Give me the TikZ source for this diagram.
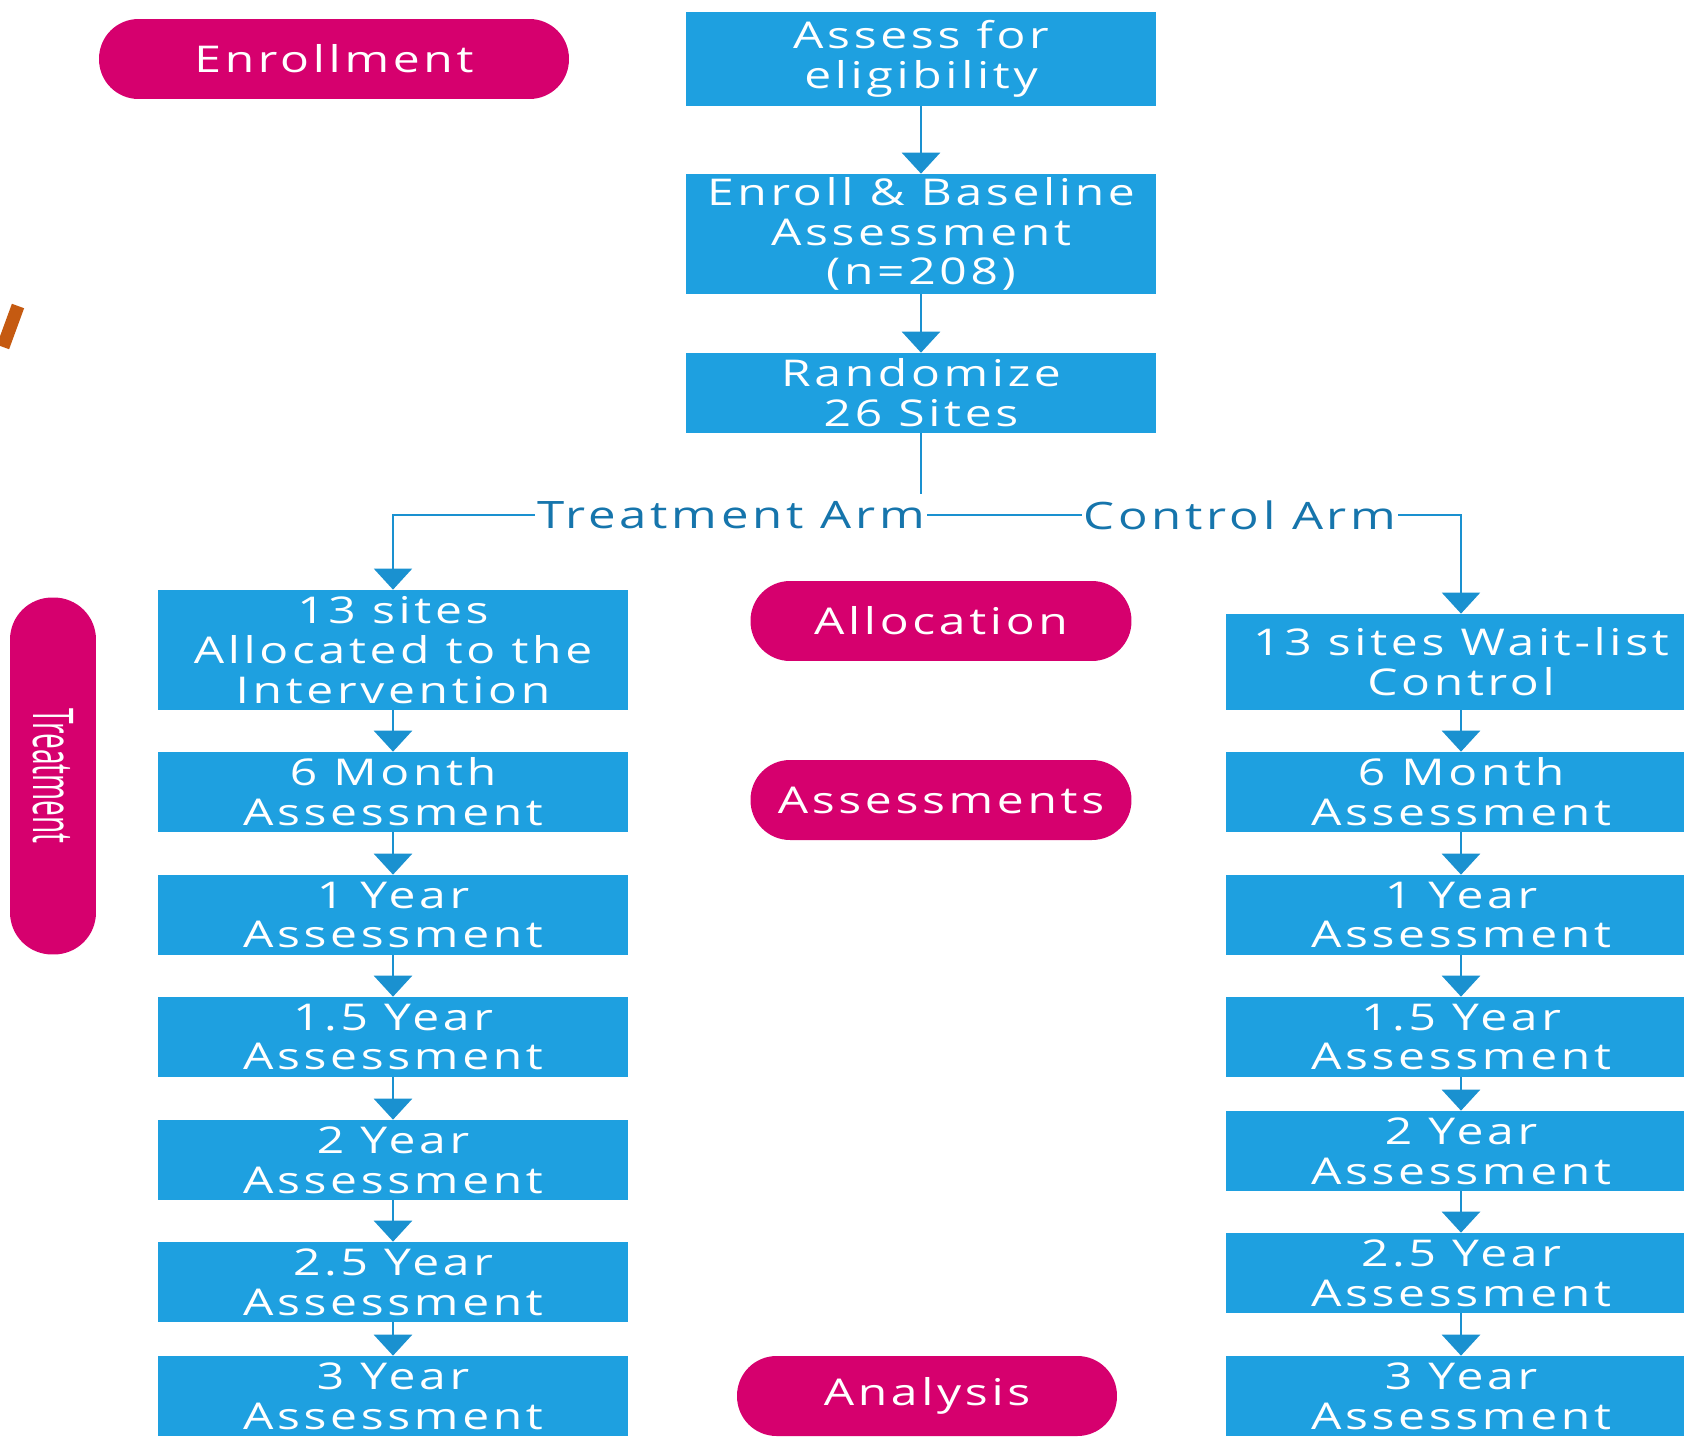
\documentclass[tikz,border=0pt]{standalone}
\usepackage{fontspec}
\setmainfont{Open Sans}[FakeStretch=1.3,LetterSpace=10]
\newfontfamily\narrowfont{Open Sans}[FakeStretch=0.5]
\usetikzlibrary{arrows.meta}

\definecolor{boxblue}{RGB}{30,160,224}
\definecolor{linkblue}{RGB}{26,145,208}
\definecolor{armblue}{RGB}{22,117,172}
\definecolor{pillpink}{RGB}{214,0,110}
\definecolor{markorange}{RGB}{197,90,17}

\tikzset{
  flowbox/.style={fill=boxblue, text=white, align=center, inner sep=0pt,
    minimum width=9.4cm, minimum height=1.6cm,
    font=\fontsize{21}{22.6}\selectfont},
  pill/.style={fill=pillpink, text=white, rounded corners=0.79cm, inner sep=0pt,
    minimum width=7.62cm, minimum height=1.6cm,
    font=\fontsize{21}{22.6}\selectfont},
  link/.style={linkblue, line width=1.6pt, -{Triangle[width=0.76cm,length=0.42cm]}},
  armline/.style={linkblue, line width=1.2pt},
  armlabel/.style={fill=white, text=armblue, inner xsep=1pt, inner ysep=4pt,
    font=\fontsize{21.5}{23}\selectfont},
}

\begin{document}
\begin{tikzpicture}[x=0.02cm, y=-0.02cm]
\clip (0,0) rectangle (1684,1440);

% left margin
\draw[markorange, line width=0.26cm] (18,306) -- (3,347);
\node[pill, rotate=-90, minimum width=7.14cm, minimum height=1.72cm, rounded corners=0.84cm,
  font=\fontsize{32}{34}\narrowfont] (treatpill) at (53,776) {Treatment};

% stage pills
\node[pill, minimum width=9.4cm] (enrolpill) at (334,59) {Enrollment};
\node[pill] (allocpill) at (941,621) {Allocation};
\node[pill] (assesspill) at (941,800) {Assessments};
\node[pill, minimum width=7.6cm] (analysispill) at (927,1396) {Analysis};

% centre column
\node[flowbox, minimum height=1.88cm] (assess) at (921,59) {Assess for\\eligibility};
\node[flowbox, minimum height=2.4cm] (baseline) at (921,234) {Enroll \& Baseline\\Assessment\\(n=208)};
\node[flowbox] (rand) at (921,393) {Randomize\\26 Sites};

\draw[link] (assess) -- (baseline);
\draw[link] (baseline) -- (rand);

% treatment arm
\node[flowbox, minimum height=2.4cm] (alloc) at (393,650) {13 sites\\Allocated to the\\Intervention};
\node[flowbox] (tsixm) at (393,792) {6 Month\\Assessment};
\node[flowbox] (tone) at (393,915) {1 Year\\Assessment};
\node[flowbox] (tonehalf) at (393,1037) {1.5 Year\\Assessment};
\node[flowbox] (ttwo) at (393,1160) {2 Year\\Assessment};
\node[flowbox] (ttwohalf) at (393,1282) {2.5 Year\\Assessment};
\node[flowbox] (tthree) at (393,1396) {3 Year\\Assessment};

\draw[link] (alloc) -- (tsixm);
\draw[link] (tsixm) -- (tone);
\draw[link] (tone) -- (tonehalf);
\draw[link] (tonehalf) -- (ttwo);
\draw[link] (ttwo) -- (ttwohalf);
\draw[link] (ttwohalf) -- (tthree);

% control arm
\node[flowbox, minimum height=1.92cm] (wait) at (1461,662) {13 sites Wait-list\\Control};
\node[flowbox] (csixm) at (1461,792) {6 Month\\Assessment};
\node[flowbox] (cone) at (1461,915) {1 Year\\Assessment};
\node[flowbox] (conehalf) at (1461,1037) {1.5 Year\\Assessment};
\node[flowbox] (ctwo) at (1461,1151) {2 Year\\Assessment};
\node[flowbox] (ctwohalf) at (1461,1273) {2.5 Year\\Assessment};
\node[flowbox] (cthree) at (1461,1396) {3 Year\\Assessment};

\draw[link] (wait) -- (csixm);
\draw[link] (csixm) -- (cone);
\draw[link] (cone) -- (conehalf);
\draw[link] (conehalf) -- (ctwo);
\draw[link] (ctwo) -- (ctwohalf);
\draw[link] (ctwohalf) -- (cthree);

% split
\coordinate (fork) at (921,515);
\draw[armline] (rand) -- (fork);
\draw[link, line width=1.2pt] (fork) -| (alloc);
\draw[link, line width=1.2pt] (fork) -| (wait);
\node[armlabel] (treatarm) at (731,515) {Treatment Arm};
\node[armlabel] (ctrlarm) at (1240,515) {Control Arm};
\end{tikzpicture}
\end{document}
